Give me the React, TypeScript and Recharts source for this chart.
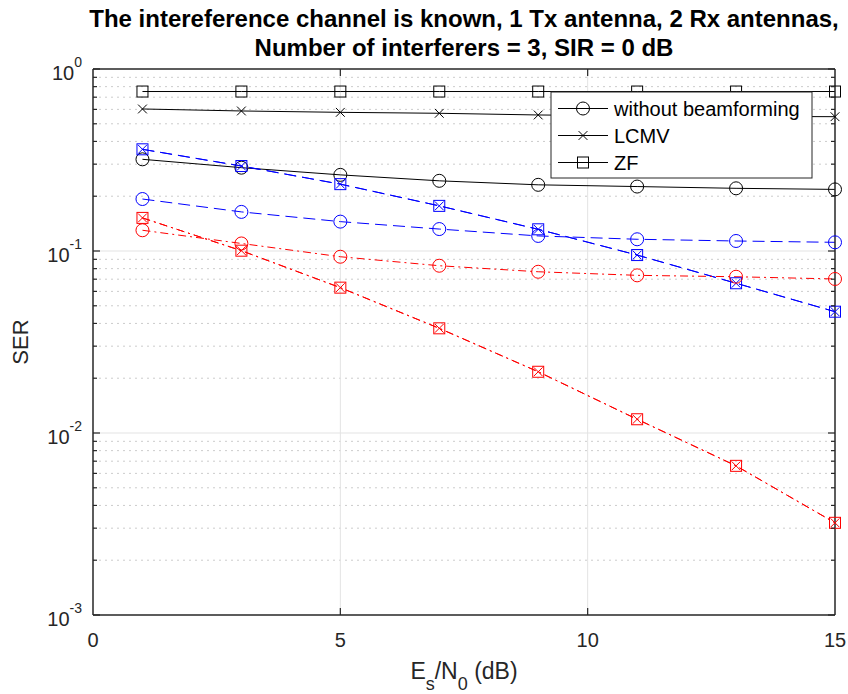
import React from "react";
import { LineChart, Line, XAxis, YAxis, ReferenceLine } from "recharts";

// Es/N0 (dB) sample points
const snrDb = [1, 3, 5, 7, 9, 11, 13, 15];

// black, solid
const serNoBfBlack = [0.319, 0.287, 0.262, 0.243, 0.231, 0.226, 0.221, 0.218];
const serLcmvBlack = [0.603, 0.588, 0.578, 0.571, 0.559, 0.553, 0.549, 0.547];
const serZfBlack = [0.752, 0.752, 0.752, 0.752, 0.752, 0.752, 0.752, 0.752];

// blue, dashed
const serNoBfBlue = [0.193, 0.164, 0.145, 0.132, 0.121, 0.116, 0.1135, 0.1116];
const serLcmvBlue = [0.362, 0.293, 0.233, 0.177, 0.1316, 0.095, 0.0665, 0.0464];
const serZfBlue = [0.362, 0.293, 0.233, 0.177, 0.1316, 0.095, 0.0665, 0.0464];

// red, dash-dot
const serNoBfRed = [0.13, 0.11, 0.093, 0.083, 0.0769, 0.0735, 0.0722, 0.0702];
const serLcmvRed = [0.152, 0.1004, 0.0629, 0.0376, 0.0217, 0.0119, 0.0066, 0.00321];
const serZfRed = [0.152, 0.1004, 0.0629, 0.0376, 0.0217, 0.0119, 0.0066, 0.00321];

const xTicks = [0, 5, 10, 15];
const yDecades = [0.001, 0.01, 0.1, 1];
const legendLabels = ["without beamforming", "LCMV", "ZF"];

const rows = snrDb.map((x, i) => ({
  x,
  bkNone: serNoBfBlack[i],
  bkLcmv: serLcmvBlack[i],
  bkZf: serZfBlack[i],
  blNone: serNoBfBlue[i],
  blLcmv: serLcmvBlue[i],
  blZf: serZfBlue[i],
  rdNone: serNoBfRed[i],
  rdLcmv: serLcmvRed[i],
  rdZf: serZfRed[i],
}));

const yMinors: number[] = [];
yDecades.slice(0, 3).forEach((d) => {
  for (let k = 2; k <= 9; k++) yMinors.push(+(d * k).toPrecision(3));
});
const yAllTicks = [...yDecades, ...yMinors].sort((a, b) => a - b);

const FONT = "'Liberation Sans', Arial, Helvetica, sans-serif";
const AXIS = "#262626";
const BLUE = "#0000ff";
const RED = "#ff0000";

type Shape = "circle" | "x" | "square";

function Marker({ cx, cy, shape, color }: { cx: number; cy: number; shape: Shape; color: string }) {
  if (cx == null || cy == null) return null;
  if (shape === "circle")
    return <circle cx={cx} cy={cy} r={6.5} fill="none" stroke={color} strokeWidth={1} />;
  if (shape === "square")
    return <rect x={cx - 5.5} y={cy - 5.5} width={11} height={11} fill="none" stroke={color} strokeWidth={1} />;
  const h = 4.4;
  return (
    <path
      d={`M${cx - h},${cy - h}L${cx + h},${cy + h}M${cx - h},${cy + h}L${cx + h},${cy - h}`}
      stroke={color}
      strokeWidth={1}
      fill="none"
    />
  );
}

function isDecade(v: number) {
  const l = Math.log10(v);
  return Math.abs(l - Math.round(l)) < 1e-6;
}

function LeftTick(props: any) {
  const { x, y, payload } = props;
  const v = payload.value as number;
  const major = isDecade(v);
  return (
    <g>
      <line x1={x} x2={x + (major ? 7 : 4)} y1={y} y2={y} stroke={AXIS} strokeWidth={1.2} />
      {major && (
        <text x={x - 11} y={y + 11} textAnchor="end" fontFamily={FONT} fontSize={20} fill={AXIS}>
          10
          <tspan dy={-13} fontSize={14}>
            {String(Math.round(Math.log10(v)))}
          </tspan>
        </text>
      )}
    </g>
  );
}

function RightTick(props: any) {
  const { x, y, payload } = props;
  const major = isDecade(payload.value);
  return <line x1={x} x2={x - (major ? 7 : 4)} y1={y} y2={y} stroke={AXIS} strokeWidth={1.2} />;
}

function BottomTick(props: any) {
  const { x, y, payload } = props;
  const v = payload.value as number;
  return (
    <g>
      {v > 0 && v < 15 && <line x1={x} x2={x} y1={y} y2={y - 7} stroke={AXIS} strokeWidth={1.2} />}
      <text x={x} y={y + 32} textAnchor="middle" fontFamily={FONT} fontSize={20} fill={AXIS}>
        {v}
      </text>
    </g>
  );
}

function TopTick(props: any) {
  const { x, y, payload } = props;
  const v = payload.value as number;
  if (v <= 0 || v >= 15) return <g />;
  return <line x1={x} x2={x} y1={y} y2={y + 7} stroke={AXIS} strokeWidth={1.2} />;
}

const series: { key: string; color: string; shape: Shape; dash?: string }[] = [
  { key: "bkNone", color: "#000", shape: "circle" },
  { key: "bkLcmv", color: "#000", shape: "x" },
  { key: "bkZf", color: "#000", shape: "square" },
  { key: "blNone", color: BLUE, shape: "circle", dash: "12 6" },
  { key: "blLcmv", color: BLUE, shape: "x", dash: "12 6" },
  { key: "blZf", color: BLUE, shape: "square", dash: "12 6" },
  { key: "rdNone", color: RED, shape: "circle", dash: "8 4 2 4" },
  { key: "rdLcmv", color: RED, shape: "x", dash: "8 4 2 4" },
  { key: "rdZf", color: RED, shape: "square", dash: "8 4 2 4" },
];

const legendShapes: Shape[] = ["circle", "x", "square"];

export default function App() {
  return (
    <div style={{ position: "absolute", left: 0, top: 0, width: 848, height: 694, background: "#fff" }}>
      <LineChart width={848} height={694} data={rows} margin={{ top: 59, right: 3, bottom: 49, left: 33 }}>
        <XAxis
          xAxisId="bottom"
          dataKey="x"
          type="number"
          domain={[0, 15]}
          ticks={xTicks}
          interval={0}
          height={30}
          tickSize={0}
          tickMargin={0}
          tickLine={false}
          tick={BottomTick}
          axisLine={{ stroke: AXIS, strokeWidth: 1.5 }}
        />
        <XAxis
          xAxisId="top"
          orientation="top"
          dataKey="x"
          type="number"
          domain={[0, 15]}
          ticks={xTicks}
          interval={0}
          height={10}
          tickSize={0}
          tickMargin={0}
          tickLine={false}
          tick={TopTick}
          axisLine={{ stroke: AXIS, strokeWidth: 1.5 }}
        />
        <YAxis
          yAxisId="left"
          type="number"
          scale="log"
          domain={[0.001, 1]}
          allowDataOverflow
          ticks={yAllTicks}
          interval={0}
          width={60}
          tickSize={0}
          tickMargin={0}
          tickLine={false}
          tick={LeftTick}
          axisLine={{ stroke: AXIS, strokeWidth: 1.5 }}
        />
        <YAxis
          yAxisId="right"
          orientation="right"
          type="number"
          scale="log"
          domain={[0.001, 1]}
          allowDataOverflow
          ticks={yAllTicks}
          interval={0}
          width={10}
          tickSize={0}
          tickMargin={0}
          tickLine={false}
          tick={RightTick}
          axisLine={{ stroke: AXIS, strokeWidth: 1.5 }}
        />

        {yMinors.map((v) => (
          <ReferenceLine
            key={`m${v}`}
            xAxisId="bottom"
            yAxisId="left"
            y={v}
            stroke="#cccccc"
            strokeDasharray="2 4"
            strokeWidth={1}
          />
        ))}
        {[0.01, 0.1].map((v) => (
          <ReferenceLine key={`M${v}`} xAxisId="bottom" yAxisId="left" y={v} stroke="#e3e3e3" strokeWidth={1} />
        ))}
        {[5, 10].map((v) => (
          <ReferenceLine key={`V${v}`} xAxisId="bottom" yAxisId="left" x={v} stroke="#e3e3e3" strokeWidth={1} />
        ))}

        {series.map((s) => (
          <Line
            key={s.key}
            xAxisId="bottom"
            yAxisId="left"
            dataKey={s.key}
            type="linear"
            stroke={s.color}
            strokeWidth={1}
            strokeDasharray={s.dash}
            isAnimationActive={false}
            activeDot={false}
            dot={(p: any) => (
              <Marker key={`${s.key}-${p.index}`} cx={p.cx} cy={p.cy} shape={s.shape} color={s.color} />
            )}
          />
        ))}
      </LineChart>

      <svg
        width={848}
        height={694}
        style={{ position: "absolute", left: 0, top: 0, pointerEvents: "none" }}
      >
        <g fontFamily={FONT} fill="#000">
          <text x={464} y={27} textAnchor="middle" fontSize={24} fontWeight="bold">
            The intereference channel is known, 1 Tx antenna, 2 Rx antennas,
          </text>
          <text x={464} y={56} textAnchor="middle" fontSize={24} fontWeight="bold">
            Number of interferers = 3, SIR = 0 dB
          </text>
          <text x={464} y={679} textAnchor="middle" fontSize={23} fill={AXIS}>
            E
            <tspan dy={11} fontSize={18}>
              s
            </tspan>
            <tspan dy={-11}>/N</tspan>
            <tspan dy={11} fontSize={18}>
              0
            </tspan>
            <tspan dy={-11}> (dB)</tspan>
          </text>
          <text
            x={28}
            y={342}
            textAnchor="middle"
            fontSize={22}
            fill={AXIS}
            transform="rotate(-90 28 342)"
          >
            SER
          </text>
        </g>

        <rect x={551} y={92} width={261} height={86} fill="#fff" stroke="#262626" strokeWidth={1} />
        {legendLabels.map((label, i) => {
          const cy = 108.5 + i * 27;
          return (
            <g key={label}>
              <line x1={558} x2={608} y1={cy} y2={cy} stroke="#000" strokeWidth={1} />
              <Marker cx={583} cy={cy} shape={legendShapes[i]} color="#000" />
              <text x={614} y={cy + 7} fontFamily={FONT} fontSize={20} fill="#000">
                {label}
              </text>
            </g>
          );
        })}
      </svg>
    </div>
  );
}
